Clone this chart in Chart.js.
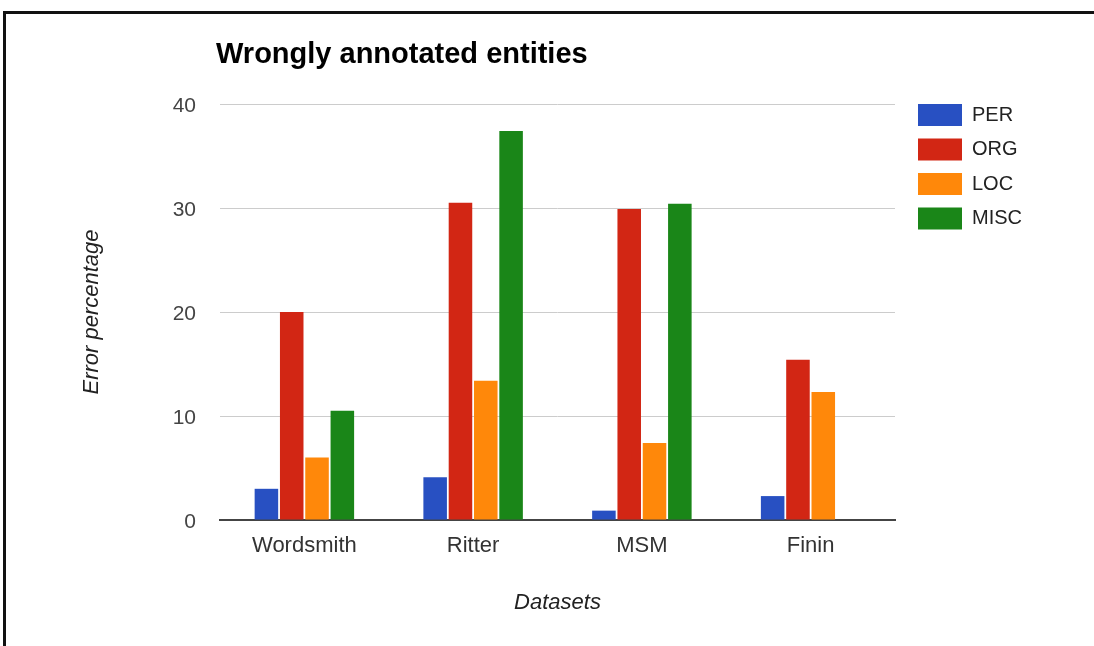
<!DOCTYPE html>
<html>
<head>
<meta charset="utf-8">
<script src="https://cdn.jsdelivr.net/npm/chart.js@4.4.1/dist/chart.umd.min.js"></script>
<style>
  html, body { margin: 0; padding: 0; background: #fff; }
  #wrap { width: 1094px; height: 646px; }
</style>
</head>
<body>
<div id="wrap"><canvas id="err-chart" width="1094" height="646"></canvas></div>
<script>
const datasetsNames = ['Wordsmith', 'Ritter', 'MSM', 'Finin']
const perValues = [3.0, 4.1, 0.9, 2.3]
const orgValues = [20.0, 30.5, 29.9, 15.4]
const locValues = [6.0, 13.4, 7.4, 12.3]
const miscValues = [10.5, 37.4, 30.4, 0]
const seriesNames = ['PER', 'ORG', 'LOC', 'MISC']
const seriesColors = ['#2850c2', '#d22614', '#ff880a', '#1a8618']
const chartTitle = 'Wrongly annotated entities'

const FONT = '"Liberation Sans", Arial, sans-serif'
Chart.defaults.font.family = FONT
Chart.defaults.color = '#444'

// frame, white background and title
const framePlugin = {
    id: 'frame',
    beforeDraw(chart) {
        const c = chart.ctx
        c.save()
        c.fillStyle = '#fff'
        c.fillRect(0, 0, chart.width, chart.height)
        c.fillStyle = '#111'
        c.fillRect(3, 11, chart.width - 3, 3)
        c.fillRect(3, 11, 3, chart.height - 11)
        c.restore()
    },
    afterDraw(chart) {
        const c = chart.ctx
        c.save()
        c.fillStyle = '#000'
        c.font = 'bold 29px ' + FONT
        c.textBaseline = 'alphabetic'
        c.fillText(chartTitle, chart.chartArea.left - 4, 63)
        c.restore()
    }
}

// legend on the right, built from the datasets
const sideLegend = {
    id: 'sideLegend',
    afterDraw(chart) {
        const c = chart.ctx
        const x = chart.chartArea.right + 23
        c.save()
        c.font = '20px ' + FONT
        c.textBaseline = 'middle'
        chart.data.datasets.forEach((ds, i) => {
            const y = 104 + i * 34.5
            c.fillStyle = ds.backgroundColor
            c.fillRect(x, y, 44, 22)
            c.fillStyle = '#222'
            c.fillText(ds.label, x + 54, y + 11)
        })
        c.restore()
    }
}

const valueLists = [perValues, orgValues, locValues, miscValues]

new Chart(document.querySelector('#err-chart'), {
    type: 'bar',
    data: {
        labels: datasetsNames,
        datasets: seriesNames.map((name, i) => ({
            label: name,
            data: valueLists[i],
            backgroundColor: seriesColors[i],
            borderWidth: 0,
            categoryPercentage: 0.6,
            barPercentage: 0.93,
        }))
    },
    options: {
        responsive: false,
        animation: false,
        layout: { padding: { top: 104, right: 199, left: 0, bottom: 0 } },
        plugins: {
            legend: { display: false },
            title: { display: false },
            tooltip: { enabled: false },
        },
        scales: {
            x: {
                afterFit(scale) { scale.height = 126 },
                grid: { display: false, drawTicks: false },
                border: { display: true, color: '#444', width: 2 },
                ticks: { padding: 13, color: '#333', font: { size: 22 } },
                title: {
                    display: true,
                    text: 'Datasets',
                    color: '#222',
                    font: { size: 22, style: 'italic' },
                    padding: { top: 0, bottom: 30 },
                },
            },
            y: {
                min: 0,
                max: 40,
                afterFit(scale) { scale.width = 220 },
                ticks: { stepSize: 10, padding: 24, labelOffset: 2, color: '#444', font: { size: 21 } },
                grid: {
                    drawTicks: false,
                    color: ctx => ctx.tick && ctx.tick.value === 0 ? 'rgba(0,0,0,0)' : '#cccccc',
                    lineWidth: 1,
                },
                border: { display: false },
                title: {
                    display: true,
                    text: 'Error percentage',
                    color: '#222',
                    font: { size: 22, style: 'italic' },
                    padding: { top: 79, bottom: 0 },
                },
            },
        },
    },
    plugins: [framePlugin, sideLegend],
})
</script>
</body>
</html>
